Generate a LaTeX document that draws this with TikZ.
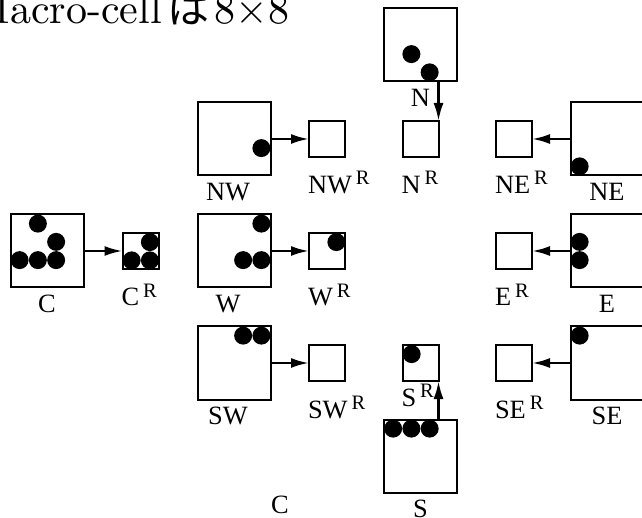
\documentclass[tikz,border=0pt]{standalone}
\usepackage{fontspec}
\usepackage{tikz}
\usetikzlibrary{arrows.meta}
\newfontfamily\lblfont{Liberation Serif}
\newfontfamily\jpfont{Noto Sans CJK JP}
\newfontfamily\titlefont{lmroman10-regular.otf}
\newcommand\Rsup{\kern4pt\raisebox{9pt}{\fontsize{20.5}{21}\selectfont R}}
\newcommand\putdots[2]{\foreach \i/\j in {#2} {\fill ([shift={(9.125+18.25*\i,-9.125-18.25*\j)}]#1.north west) circle (9pt);}}
\tikzset{
  bigcell/.style={draw, line width=2pt, minimum size=73pt, inner sep=0, outer sep=0},
  smallcell/.style={draw, line width=2pt, minimum size=36pt, inner sep=0, outer sep=0},
  lbl/.style={font=\lblfont\fontsize{26.4}{30}\selectfont, inner sep=0, outer sep=0},
  arr/.style={-{Latex[length=18pt,width=10pt]}, line width=2.5pt}
}

\begin{document}
\begin{tikzpicture}[x=1pt, y=1pt]
                \useasboundingbox (0,0) rectangle (642,-518);
                \clip (0,0) rectangle (642,-518);

                % Title
                \node[anchor=base west, inner sep=0, font=\titlefont\fontsize{42}{48}\selectfont] (title) at (-28.5,-23.5) {Macro-cell\hspace{6pt}{\jpfont は}\hspace{5pt}8×8};

                % Cells
                \node[bigcell] (N)  at (420.5,-45)  {};
                \node[bigcell] (NW) at (234,-139)   {};
                \node[bigcell] (NE) at (607,-139)   {};
                \node[bigcell] (C)  at (47,-251)    {};
                \node[bigcell] (W)  at (234,-251)   {};
                \node[bigcell] (E)  at (607,-251)   {};
                \node[bigcell] (SW) at (234,-363)   {};
                \node[bigcell] (SE) at (607,-363)   {};
                \node[bigcell] (S)  at (420.5,-456) {};

                % Reduced cells
                \node[smallcell] (NWR) at (327,-139)   {};
                \node[smallcell] (NR)  at (420.5,-139) {};
                \node[smallcell] (NER) at (514,-139)   {};
                \node[smallcell] (CR)  at (140.5,-251) {};
                \node[smallcell] (WR)  at (327,-251)   {};
                \node[smallcell] (ER)  at (514,-251)   {};
                \node[smallcell] (SWR) at (327,-363)   {};
                \node[smallcell] (SR)  at (420.5,-363) {};
                \node[smallcell] (SER) at (514,-363)   {};

                % Dots
                \putdots{C}{1/0,2/1,0/2,1/2,2/2}
                \putdots{CR}{1/0,0/1,1/1}
                \putdots{W}{3/0,2/2,3/2}
                \putdots{WR}{1/0}
                \putdots{NW}{3/2}
                \putdots{N}{1/2,2/3}
                \putdots{NE}{0/3}
                \putdots{E}{0/1,0/2}
                \putdots{SE}{0/0}
                \putdots{SW}{2/0,3/0}
                \putdots{S}{0/0,1/0,2/0}
                \putdots{SR}{0/0}

                % Arrows
                \draw[arr] (C) -- (CR);
                \draw[arr] (NW) -- (NWR);
                \draw[arr] (W) -- (WR);
                \draw[arr] (SW) -- (SWR);
                \draw[arr] (NE) -- (NER);
                \draw[arr] (E) -- (ER);
                \draw[arr] (SE) -- (SER);
                \draw[arr] (NR.north east |- N.south) -- (NR.north east);
                \draw[arr] (SR.south east |- S.north) -- (SR.south east);

                % Labels
                \node[lbl, anchor=base] (Nlbl)  at ([yshift=-25]N.south) {N};
                \node[lbl, anchor=base] (NWlbl) at ([xshift=-6,yshift=-25]NW.south) {NW};
                \node[lbl, anchor=base] (NElbl) at ([yshift=-25]NE.south) {NE};
                \node[lbl, anchor=base] (Clbl)  at ([yshift=-25]C.south) {C};
                \node[lbl, anchor=base] (Wlbl)  at ([xshift=-6,yshift=-25]W.south) {W};
                \node[lbl, anchor=base] (Elbl)  at ([yshift=-25]E.south) {E};
                \node[lbl, anchor=base] (SWlbl) at ([xshift=-6,yshift=-25]SW.south) {SW};
                \node[lbl, anchor=base] (SElbl) at ([yshift=-25]SE.south) {SE};
                \node[lbl, anchor=base] (Slbl)  at ([yshift=-25]S.south) {S};

                \node[lbl, anchor=base west] (NWRlbl) at ([xshift=-1,yshift=-37]NWR.south west) {NW\Rsup};
                \node[lbl, anchor=base west] (NRlbl)  at ([xshift=-1,yshift=-37]NR.south west) {N\Rsup};
                \node[lbl, anchor=base west] (NERlbl) at ([xshift=-1,yshift=-37]NER.south west) {NE\Rsup};
                \node[lbl, anchor=base west] (CRlbl)  at ([xshift=-1,yshift=-37]CR.south west) {C\Rsup};
                \node[lbl, anchor=base west] (WRlbl)  at ([xshift=-1,yshift=-37]WR.south west) {W\Rsup};
                \node[lbl, anchor=base west] (ERlbl)  at ([xshift=-1,yshift=-37]ER.south west) {E\Rsup};
                \node[lbl, anchor=base west] (SWRlbl) at ([xshift=-1,yshift=-37]SWR.south west) {SW\Rsup};
                \node[lbl, anchor=base west] (SRlbl)  at ([xshift=-1,yshift=-25]SR.south west) {S\Rsup};
                \node[lbl, anchor=base west] (SERlbl) at ([xshift=-1,yshift=-37]SER.south west) {SE\Rsup};

                \node[lbl, anchor=base] (Cbottom) at (280,-513) {C};
\end{tikzpicture}
\end{document}
